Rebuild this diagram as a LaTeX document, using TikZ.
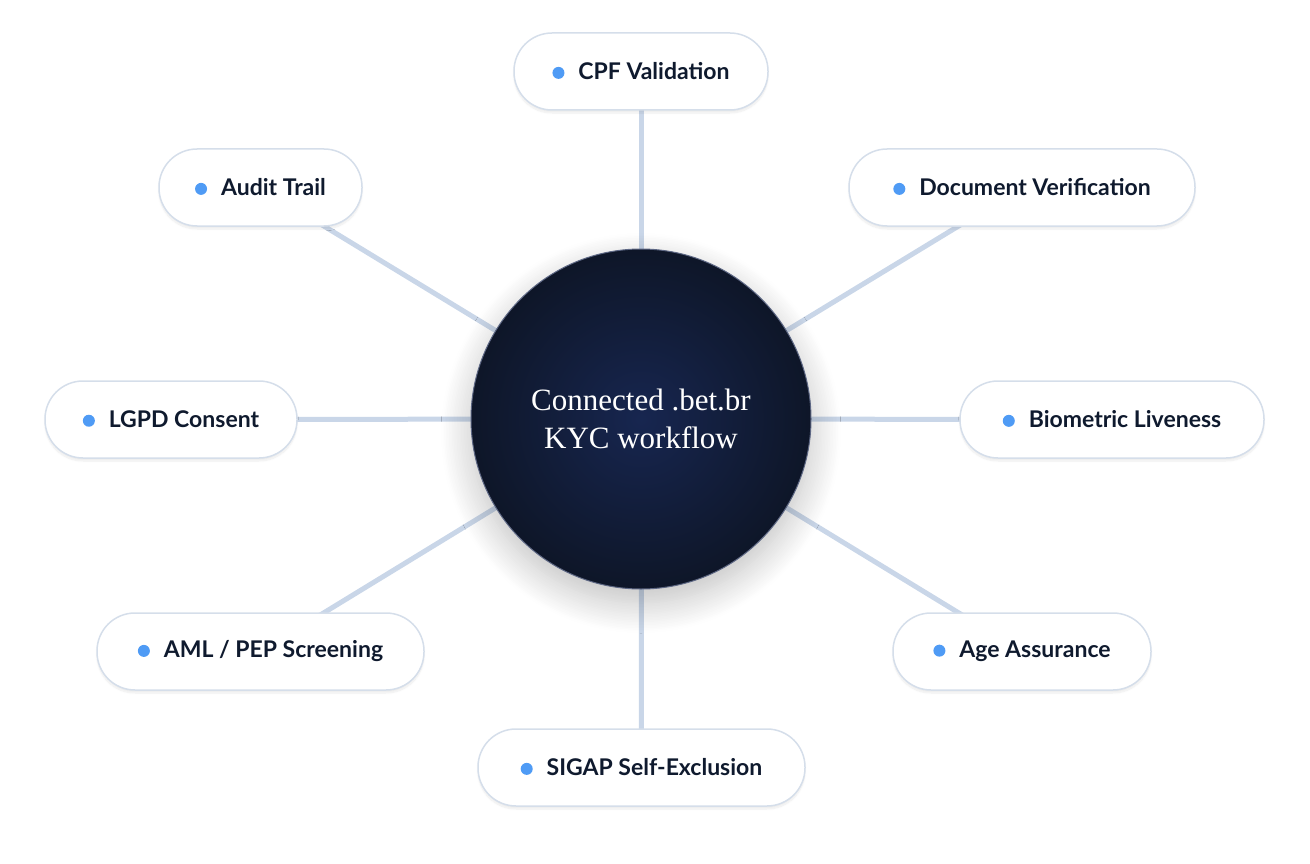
\documentclass[tikz,border=0pt]{standalone}
\usepackage{fontspec}
\setmainfont{Liberation Serif}
\newfontfamily\pillfont{Lato}
\usetikzlibrary{shadows.blur}
\definecolor{linec}{HTML}{C9D6E8}
\definecolor{pillborder}{HTML}{D5DEEA}
\definecolor{navyA}{HTML}{172650}
\definecolor{navyB}{HTML}{0E1628}
\definecolor{dotc}{HTML}{4F9BF5}
\definecolor{txt}{HTML}{0F1A2E}
\tikzset{
  pill/.style={draw=pillborder, line width=1.5pt, fill=white, rounded corners=38pt,
    minimum height=77pt, inner xsep=0pt, font=\pillfont\bfseries\fontsize{23}{27}\selectfont,
    text=txt, blur shadow={shadow blur steps=8, shadow xshift=0pt, shadow yshift=-3pt, shadow opacity=8}},
  spoke/.style={draw=linec, line width=5pt},
}
\newcommand{\pilltext}[1]{\tikz[baseline=-0.6ex]\fill[dotc] (0,0) circle (6pt);\hspace{14pt}#1}
\begin{document}
\begin{tikzpicture}[x=1pt,y=-1pt]
\useasboundingbox (0,0) rectangle (1310,864);
\coordinate (c) at (641,419);
\coordinate (pcpf) at (641,71.5);
\coordinate (paud) at (260.5,187.5);
\coordinate (pdoc) at (1022,187.5);
\coordinate (plgpd) at (171,419.5);
\coordinate (pbio) at (1112,419.5);
\coordinate (paml) at (260.5,651.5);
\coordinate (page) at (1022,651.5);
\coordinate (psig) at (641.5,767.5);
\foreach \n in {pcpf,paud,pdoc,plgpd,pbio,paml,page,psig}
  \draw[spoke] (c) -- (\n);
\node[pill, minimum width=254pt] (cpf) at (pcpf) {\pilltext{CPF Validation}};
\node[pill, minimum width=203pt] (aud) at (paud) {\pilltext{Audit Trail}};
\node[pill, minimum width=346pt] (doc) at (pdoc) {\pilltext{Document Verification}};
\node[pill, minimum width=252pt] (lgpd) at (plgpd) {\pilltext{LGPD Consent}};
\node[pill, minimum width=304pt] (bio) at (pbio) {\pilltext{Biometric Liveness}};
\node[pill, minimum width=327pt] (aml) at (paml) {\pilltext{AML / PEP Screening}};
\node[pill, minimum width=258pt] (age) at (page) {\pilltext{Age Assurance}};
\node[pill, minimum width=327pt] (sig) at (psig) {\pilltext{SIGAP Self-Exclusion}};
\node[circle, minimum size=340pt, draw=navyA!70!white, line width=1pt,
  inner color=navyA, outer color=navyB, text=white, align=center,
  font=\fontsize{31}{38}\selectfont,
  blur shadow={shadow blur steps=20, shadow xshift=0pt, shadow yshift=-14pt, shadow blur radius=30pt, shadow opacity=25}] (hub) at (c)
  {Connected .bet.br\\KYC workflow};
\end{tikzpicture}
\end{document}
